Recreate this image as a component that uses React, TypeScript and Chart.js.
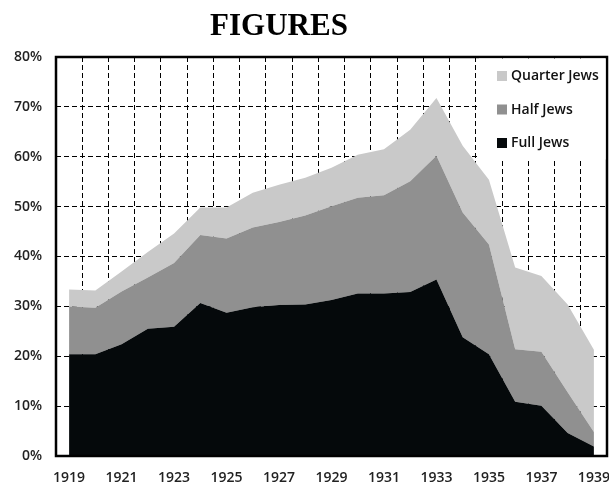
import React, { useEffect, useRef } from "react";
import { Chart, registerables } from "chart.js";

Chart.register(...registerables);

const title = "FIGURES";
const years = [
  "1919", "1920", "1921", "1922", "1923", "1924", "1925", "1926", "1927", "1928",
  "1929", "1930", "1931", "1932", "1933", "1934", "1935", "1936", "1937", "1938", "1939",
];
const fullJews = [20.4, 20.4, 22.4, 25.5, 25.9, 30.7, 28.7, 29.8, 30.3, 30.4, 31.3, 32.6, 32.6, 32.9, 35.4, 23.8, 20.4, 10.9, 10.1, 4.6, 1.9];
const halfJews = [9.6, 9.3, 10.6, 10.3, 12.8, 13.6, 14.9, 16.0, 16.6, 17.8, 18.8, 19.2, 19.7, 22.2, 24.8, 25.0, 22.0, 10.5, 10.8, 8.2, 2.9];
const quarterJews = [3.4, 3.5, 4.0, 5.1, 5.9, 5.5, 6.2, 7.0, 7.5, 7.6, 7.7, 8.6, 9.2, 10.3, 11.6, 13.4, 13.0, 16.4, 15.2, 17.6, 16.5];
const seriesNames = ["Full Jews", "Half Jews", "Quarter Jews"];
const seriesColors = ["#05090b", "#909090", "#c9c9c9"];
const yMax = 80;
const yStep = 10;

const FONT = "'Open Sans', sans-serif";

const decorPlugin = {
  id: "decor",
  afterDatasetsDraw(chart: any) {
    const { ctx, chartArea } = chart;
    const { left, right, top, bottom } = chartArea;
    ctx.save();
    // frame
    ctx.strokeStyle = "#000";
    ctx.lineWidth = 2.5;
    ctx.setLineDash([]);
    ctx.strokeRect(left, top, right - left, bottom - top);
    // legend box
    const bx = 479;
    const by = top + 1.5;
    ctx.fillStyle = "#fff";
    ctx.fillRect(bx, by, right - 1.5 - bx, 101);
    const items = chart.data.datasets.map((d: any) => ({ label: d.label, color: d.backgroundColor })).reverse();
    ctx.font = `600 14px ${FONT}`;
    ctx.textBaseline = "middle";
    ctx.textAlign = "left";
    items.forEach((it: any, i: number) => {
      const cy = 76 + i * 33.5;
      ctx.fillStyle = it.color;
      ctx.fillRect(497, cy - 5, 10, 10);
      ctx.fillStyle = "#111";
      ctx.fillText(it.label, 511, cy + 0.5);
    });
    ctx.restore();
  },
  afterDraw(chart: any) {
    const { ctx } = chart;
    ctx.save();
    ctx.font = "bold 31px 'Liberation Serif', serif";
    ctx.fillStyle = "#000";
    ctx.textAlign = "center";
    ctx.textBaseline = "alphabetic";
    ctx.fillText(title, 279, 35);
    ctx.restore();
  },
};

export default function App() {
  const ref = useRef<HTMLCanvasElement>(null);
  useEffect(() => {
    document.body.style.margin = "0";
    const values = [fullJews, halfJews, quarterJews];
    const chart = new Chart(ref.current!, {
      type: "line",
      data: {
        labels: years,
        datasets: values.map((v, i) => ({
          label: seriesNames[i],
          data: v,
          backgroundColor: seriesColors[i],
          borderColor: seriesColors[i],
          borderWidth: 0,
          pointRadius: 0,
          tension: 0,
          fill: i === 0 ? "origin" : "-1",
        })),
      },
      options: {
        animation: false,
        responsive: false,
        devicePixelRatio: 1,
        layout: { padding: { top: 57, right: 2, bottom: 0, left: 0 } },
        plugins: { legend: { display: false }, tooltip: { enabled: false }, title: { display: false } },
        scales: {
          x: {
            type: "category",
            offset: true,
            grid: { color: "#000", lineWidth: 1, offset: true, drawTicks: false },
            border: { display: false, dash: [5, 3] },
            ticks: {
              autoSkip: false,
              maxRotation: 0,
              padding: 14,
              color: "#222",
              font: { family: FONT, size: 14, weight: "600" },
              callback: (_v: any, i: number) => (i % 2 === 0 ? years[i] : ""),
            },
            afterFit: (s: any) => {
              s.height = 30;
              s.paddingLeft = 0;
              s.paddingRight = 0;
            },
          },
          y: {
            stacked: true,
            min: 0,
            max: yMax,
            grid: { color: "#000", lineWidth: 1, drawTicks: false },
            border: { display: false, dash: [5, 3] },
            ticks: {
              stepSize: yStep,
              padding: 14,
              color: "#222",
              font: { family: FONT, size: 14, weight: "600" },
              callback: (v: any) => v + "%",
            },
            afterFit: (s: any) => {
              s.width = 56;
            },
          },
        },
      },
      plugins: [decorPlugin],
    });
    return () => chart.destroy();
  }, []);
  return (
    <div style={{ width: 609, height: 486, overflow: "hidden" }}>
      <canvas ref={ref} width={609} height={486} style={{ display: "block" }} />
    </div>
  );
}
